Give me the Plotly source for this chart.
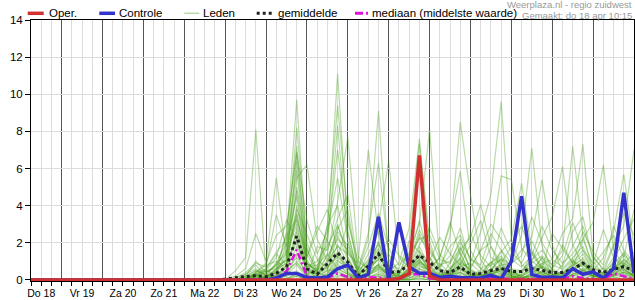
import pandas as pd
import plotly.graph_objects as go

# ---------------- data ----------------
times = pd.date_range("2024-04-18 06:00", periods=60, freq="6h")
day_label_times = pd.date_range("2024-04-18 12:00", periods=15, freq="D")
day_labels = ["Do 18", "Vr 19", "Za 20", "Zo 21", "Ma 22", "Di 23", "Wo 24", "Do 25",
              "Vr 26", "Za 27", "Zo 28", "Ma 29", "Di 30", "Wo 1", "Do 2"]
midnights = pd.date_range("2024-04-19 00:00", periods=14, freq="D")

Z19 = [0]*19  # first 19 six-hour steps (Do 18 06:00 - Di 23 00:00) read as zero

oper = Z19 + [0, 0, 0, 0, 0, 0, 0, 0, 0, 0, 0, 0, 0, 0, 0, 0, 0, 0.07, 0.35, 6.7, 0.2,
              0, 0, 0, 0, 0, 0, 0, 0, 0, 0, 0, 0, 0, 0, 0, 0, 0, 0, 0, 0]
controle = Z19 + [0, 0, 0, 0, 0, 0.1, 0.35, 0.35, 0.13, 0.1, 0.15, 0.6, 0.8, 0.1, 0.3, 3.4, 0, 3.1, 0.7, 0.36, 0.36,
                  0.13, 0.2, 0.13, 0.1, 0.1, 0.25, 0.05, 1.0, 4.5, 0.3, 0.13, 0.15, 0.1, 0.6, 0.3, 0.43, 0.1, 0.6, 4.7, 0.35]
gemiddelde = Z19 + [0.05, 0.13, 0.18, 0.22, 0.17, 0.35, 0.7, 2.35, 0.6, 0.3, 0.85, 1.45, 0.95, 0.22, 0.75, 1.4, 0.4, 0.45, 0.8, 1.32, 0.95,
                    0.5, 0.4, 0.7, 0.3, 0.35, 0.5, 0.62, 0.45, 0.45, 0.62, 0.5, 0.4, 0.4, 0.57, 0.9, 0.55, 0.4, 0.57, 0.72, 0.48]
mediaan = Z19 + [0, 0, 0, 0, 0, 0.1, 0.45, 1.62, 0.2, 0.05, 0.1, 0.35, 0.15, 0.02, 0.15, 0.12, 0.05, 0.05, 0.3, 0.3, 0.08,
                 0.03, 0.05, 0.05, 0.02, 0.05, 0.15, 0.08, 0.03, 0.05, 0.05, 0.05, 0.03, 0.05, 0.2, 0.1, 0.05, 0.03, 0.35, 0.2, 0.05]

leden = [
    [0, 0, 0, 0, 0, 0, 0.05, 0.03, 0, 0, 0, 0, 0, 0, 0, 0, 0, 0, 0] +
    [0, 0.5, 1.2, 8.1, 0.3, 0.1, 0.4, 2.8, 0.6, 0.1, 0.3, 1.5, 0.4, 0, 0.2, 0.6, 0.1, 0, 0.3, 0.9, 0.2, 0, 0.1, 0.4, 0.1, 0, 0.2, 0.8, 0.3, 0, 0.1, 0.5, 0.2, 0, 0.3, 0.6, 0.1, 0, 0.2, 0.4, 0.1],
    Z19 + [0, 0.2, 0.6, 2.5, 1.0, 5.5, 1.2, 3.6, 0.8, 0.2, 0.5, 2.4, 1.1, 0.1, 0.4, 1.5, 0.3, 0.1, 0.6, 1.8, 0.7, 0.2, 0.3, 1.2, 0.2, 0.1, 0.6, 0.3, 0.1, 0.2, 0.8, 0.3, 0.1, 0.5, 1.1, 0.4, 0.2, 0.1, 0.6, 1.3, 0.3],
    Z19 + [0, 0, 0.1, 0.4, 0.6, 1.5, 2.2, 9.7, 1.4, 0.3, 0.8, 3.0, 1.2, 0.2, 0.6, 1.1, 0.2, 0, 0.4, 1.4, 0.6, 0.1, 0.9, 2.2, 0.4, 0.2, 0.4, 1.6, 0.5, 0.1, 0.3, 0.9, 0.4, 0.2, 0.6, 1.0, 0.3, 0.1, 0.8, 0.5, 0.2],
    Z19 + [0, 0, 0.2, 1.0, 0.4, 0.8, 1.6, 8.2, 2.0, 0.6, 2.4, 11.1, 2.6, 0.3, 0.9, 2.0, 0.5, 0.1, 0.7, 2.5, 1.2, 0.3, 0.2, 0.6, 0.3, 0.5, 1.8, 0.9, 0.2, 0, 0.4, 1.2, 0.3, 0.1, 0.9, 1.6, 0.4, 0.2, 0.3, 0.7, 0.4],
    Z19 + [0, 0.1, 0.3, 0.6, 0.2, 0.4, 2.6, 7.2, 1.1, 0.2, 1.4, 4.2, 7.7, 1.3, 0.5, 0.8, 0.2, 0, 0.2, 1.0, 0.4, 0.1, 0.5, 1.8, 0.6, 0.2, 0.3, 0.5, 0.1, 0.3, 1.5, 0.6, 0.2, 0.4, 0.2, 0.5, 0.8, 0.3, 0.2, 0.9, 0.3],
    Z19 + [0, 0, 0, 0.3, 0.1, 0.6, 1.1, 6.4, 0.9, 0.4, 3.0, 9.4, 3.4, 0.5, 2.2, 9.1, 1.0, 0.2, 0.5, 1.6, 0.3, 0.1, 0.2, 0.9, 0.2, 0.1, 0.5, 1.2, 0.4, 0.2, 0.6, 0.3, 0.1, 0.2, 0.5, 0.9, 0.2, 0.1, 0.4, 1.1, 0.6],
    Z19 + [0, 0, 0.2, 0.5, 0.3, 0.9, 2.0, 5.9, 0.7, 1.0, 1.9, 8.3, 2.0, 0.2, 0.3, 0.7, 0.4, 0.3, 1.5, 3.0, 8.1, 0.9, 0.3, 0.6, 0.1, 0.3, 1.0, 0.4, 0.2, 0.1, 0.2, 0.7, 0.3, 0.1, 0.4, 0.6, 0.2, 0.1, 0.9, 0.3, 0.2],
    Z19 + [0, 0, 0, 0.2, 0.5, 0.3, 1.3, 5.5, 6.2, 2.2, 1.0, 1.8, 1.4, 0.9, 7.0, 2.4, 0.6, 0.2, 0.3, 0.8, 0.5, 0.2, 0.6, 1.1, 0.5, 0.2, 0.1, 0.3, 0.6, 0.2, 0.1, 0.4, 0.2, 0.3, 1.0, 0.7, 0.2, 0.4, 1.2, 0.6, 0.2],
    Z19 + [0, 0, 0, 0, 0.2, 0.2, 0.7, 5.0, 1.6, 0.5, 0.9, 2.6, 1.8, 0.4, 0.6, 3.0, 6.4, 1.2, 0.7, 1.3, 0.9, 0.5, 2.4, 8.5, 4.6, 1.1, 0.3, 0.6, 0.2, 0.1, 0.2, 0.5, 0.1, 0, 0.3, 0.5, 0.2, 0.1, 0.3, 0.6, 0.2],
    Z19 + [0, 0, 0.1, 0.3, 0.1, 0.5, 1.9, 4.5, 0.6, 0.3, 0.7, 1.2, 0.8, 0.1, 0.4, 1.2, 0.5, 0.9, 2.8, 7.6, 2.1, 0.4, 0.2, 0.7, 0.9, 2.6, 4.6, 9.6, 2.1, 0.8, 0.5, 1.2, 0.6, 0.3, 0.8, 1.4, 0.5, 0.2, 0.6, 1.0, 0.4],
    Z19 + [0, 0, 0.3, 0.8, 0.2, 0.6, 0.9, 4.0, 1.2, 2.6, 3.8, 1.6, 0.6, 0.2, 0.8, 1.4, 0.3, 0.2, 1.9, 7.3, 1.8, 0.6, 0.4, 1.5, 0.3, 0.2, 0.6, 1.1, 0.9, 2.4, 7.1, 1.8, 0.5, 0.3, 0.7, 1.2, 0.4, 0.3, 0.5, 1.5, 0.5],
    Z19 + [0, 0, 0, 0.1, 0.3, 0.2, 0.8, 3.5, 0.9, 0.5, 1.3, 2.2, 1.6, 0.6, 2.5, 6.3, 1.4, 0.3, 0.6, 1.1, 0.4, 0.2, 0.3, 0.9, 0.6, 1.6, 2.0, 5.6, 5.4, 1.7, 1.0, 0.6, 0.3, 0.2, 0.6, 1.0, 0.4, 0.1, 0.5, 0.8, 0.2],
    Z19 + [0, 0, 0, 0.2, 0.1, 0.4, 1.5, 3.0, 0.5, 0.1, 0.4, 1.1, 0.5, 0, 0.2, 0.9, 0.3, 0.1, 0.2, 0.7, 0.6, 1.2, 2.9, 5.85, 1.6, 0.6, 0.3, 0.9, 0.4, 0.2, 0.5, 0.9, 1.1, 2.5, 3.3, 7.3, 1.3, 0.5, 0.4, 0.9, 0.6],
    Z19 + [0, 0, 0.1, 0.4, 0.8, 1.0, 0.6, 2.6, 0.4, 0.3, 0.6, 1.9, 0.9, 0.2, 0.3, 0.5, 0.1, 0, 0.4, 1.2, 0.8, 0.3, 0.5, 1.6, 2.3, 4.07, 1.8, 0.6, 0.3, 0.4, 0.9, 1.3, 0.8, 1.6, 7.2, 2.4, 0.5, 0.6, 0.3, 0.5, 0.3],
    Z19 + [0, 0, 0, 0.3, 0.5, 1.2, 3.25, 2.1, 0.7, 0.8, 1.4, 0.6, 0.3, 0.1, 0.5, 0.8, 0.2, 0.1, 0.6, 1.3, 0.5, 0.3, 0.4, 0.8, 0.2, 0.4, 0.9, 1.5, 2.2, 5.2, 1.6, 0.7, 0.3, 0.4, 0.8, 1.1, 0.3, 0.4, 1.8, 2.9, 7.0],
    Z19 + [0, 0, 0, 0.1, 0.2, 0.5, 0.9, 2.2, 0.3, 0.1, 0.3, 1.0, 0.7, 0.2, 0.9, 1.6, 0.4, 0.2, 0.3, 0.6, 0.3, 0.1, 0.2, 0.5, 0.4, 0.2, 0.6, 0.8, 0.9, 1.6, 2.3, 5.4, 1.9, 0.4, 0.6, 2.2, 3.1, 6.2, 1.6, 0.8, 0.4],
    Z19 + [0, 0, 0, 0.2, 0.1, 0.3, 0.5, 1.8, 0.6, 0.4, 0.2, 0.8, 0.4, 0.1, 0.3, 0.6, 0.3, 0.2, 0.5, 0.9, 0.7, 0.2, 0.4, 1.0, 0.5, 0.3, 0.2, 0.6, 0.4, 0.5, 1.0, 2.3, 3.4, 6.1, 1.9, 0.8, 0.5, 1.2, 2.6, 5.7, 1.8],
    Z19 + [0, 0.1, 0.4, 0.9, 0.7, 3.5, 1.8, 3.2, 0.9, 0.4, 2.2, 7.0, 2.5, 0.3, 0.6, 1.3, 0.5, 0.1, 0.4, 1.0, 0.6, 1.2, 3.1, 1.4, 0.3, 0.2, 0.4, 0.6, 0.2, 0.1, 0.4, 0.7, 0.5, 0.2, 0.6, 0.9, 0.3, 0.2, 0.6, 1.1, 0.7],
    Z19 + [0, 0, 0, 0, 0, 0.1, 0.2, 1.4, 0.3, 0.6, 2.9, 4.0, 1.2, 0.1, 0.3, 0.8, 0.2, 0, 0.3, 0.6, 0.4, 0.7, 1.3, 2.8, 0.9, 0.4, 0.3, 0.2, 0.1, 0.3, 0.6, 0.4, 0.2, 0.8, 2.6, 3.4, 1.0, 0.3, 0.2, 0.4, 0.3],
    Z19 + [0, 0, 0, 0.1, 0, 0.2, 0.4, 1.0, 0.2, 1.8, 1.6, 3.3, 4.6, 0.7, 0.4, 2.1, 0.5, 0.3, 1.1, 3.2, 1.2, 0.5, 0.3, 0.4, 0.2, 0.3, 0.8, 1.1, 0.3, 0.2, 0.5, 0.2, 0.6, 1.9, 0.9, 0.5, 0.2, 0.3, 1.0, 2.2, 3.3],
    Z19 + [0, 0, 0, 0, 0.1, 0, 0.3, 0.8, 0.1, 0, 0.2, 0.9, 0.3, 0, 0.1, 0.4, 0.1, 0, 0.1, 0.4, 0.2, 0, 0.1, 0.3, 0.1, 0, 0.2, 0.4, 0.1, 0, 0.1, 0.3, 0.1, 0, 0.2, 0.4, 0.1, 0, 0.2, 0.3, 0.1],
    Z19 + [0, 0, 0, 0, 0, 0.1, 0.2, 0.5, 0.1, 0, 0.1, 0.4, 0.2, 0, 0, 0.2, 0, 0, 0.1, 0.2, 0.1, 0, 0, 0.2, 0, 0, 0.1, 0.2, 0, 0, 0, 0.2, 0, 0, 0.1, 0.2, 0, 0, 0.1, 0.2, 0],
    Z19 + [0, 0, 0.1, 0.3, 0, 0, 0.1, 0.3, 0, 0, 0, 0.2, 0.1, 0, 0, 0.1, 0, 0, 0, 0.1, 0, 0, 0, 0.1, 0, 0, 0, 0.1, 0, 0, 0, 0.1, 0, 0, 0, 0.1, 0, 0, 0, 0.1, 0],
    Z19 + [0, 0, 0, 0, 0, 0, 0.1, 0.2, 0, 0, 0, 0.1, 0, 0, 0, 0, 0, 0, 0, 0.1, 0, 0, 0, 0, 0, 0, 0, 0, 0, 0, 0, 0, 0, 0, 0, 0, 0, 0, 0, 0, 0],
    Z19 + [0, 0, 0, 0.1, 0.2, 0.4, 0.6, 1.2, 0.3, 0.2, 0.5, 0.6, 0.3, 0.1, 0.2, 0.3, 0.1, 0, 0.2, 0.5, 0.3, 0.1, 0.2, 0.4, 0.1, 0.1, 0.3, 0.5, 0.2, 0.1, 0.2, 0.4, 0.2, 0.1, 0.3, 0.5, 0.2, 0.1, 0.3, 0.4, 0.2],
    Z19 + [0, 0, 0, 0.2, 0.4, 0.8, 1.0, 2.0, 0.5, 0.3, 1.1, 2.7, 3.8, 0.5, 1.0, 1.7, 0.6, 0.4, 1.0, 2.3, 1.6, 0.8, 1.0, 2.0, 1.2, 0.6, 0.9, 1.3, 0.6, 0.5, 1.1, 1.6, 0.8, 0.6, 1.2, 1.8, 0.6, 0.4, 0.9, 1.4, 0.8],
    Z19 + [0, 0, 0, 0, 0, 0, 0, 0.4, 0.1, 0, 0, 0.3, 0.1, 0, 0, 0.2, 0, 0, 0, 0.2, 0.1, 0, 0, 0.1, 0, 0, 0, 0.1, 0, 0, 0, 0.1, 0, 0, 0, 0.1, 0, 0, 0, 0.1, 0],
    Z19 + [0, 0, 0, 0.4, 0.9, 2.4, 2.9, 6.8, 1.7, 0.4, 0.7, 1.3, 0.6, 0.2, 0.4, 0.7, 0.2, 0, 0.4, 1.1, 0.4, 0.2, 0.3, 0.7, 0.2, 0.1, 0.4, 0.7, 0.3, 0.1, 0.3, 0.8, 0.3, 0.2, 0.5, 0.8, 0.3, 0.1, 0.4, 0.6, 0.2],
    Z19 + [0, 0, 0, 0, 0.1, 0.2, 0.5, 0.9, 0.2, 0, 0.1, 0.5, 0.2, 0, 0.1, 0.3, 0.1, 0, 0.1, 0.3, 0.1, 0, 0.1, 0.2, 0.1, 0, 0.1, 0.3, 0.1, 0, 0.1, 0.2, 0.1, 0, 0.2, 0.3, 0.1, 0, 0.1, 0.2, 0.1],
    Z19 + [0, 0, 0, 0, 0, 0, 0, 0.2, 0, 0, 0, 0.1, 0, 0, 0, 0.1, 0, 0, 0, 0, 0, 0, 0, 0, 0, 0, 0, 0, 0, 0, 0, 0, 0, 0, 0, 0.1, 0, 0, 0, 0, 0],
    Z19 + [0, 0, 0, 0.3, 0.6, 1.4, 0.8, 3.8, 2.4, 1.1, 0.6, 1.5, 0.9, 0.3, 1.4, 2.6, 1.1, 0.5, 0.8, 1.9, 2.8, 1.4, 0.6, 1.2, 2.5, 1.3, 0.7, 2.8, 1.5, 0.9, 2.1, 1.0, 0.6, 1.3, 3.1, 1.6, 0.9, 2.7, 1.2, 0.8, 1.5],
    Z19 + [0, 0, 0.2, 0.5, 0.2, 0.9, 1.4, 4.8, 0.9, 0.5, 1.8, 2.9, 1.5, 0.4, 1.1, 1.9, 0.8, 0.6, 2.1, 1.5, 1.0, 2.3, 1.4, 0.8, 1.9, 3.2, 1.2, 0.9, 1.8, 2.9, 1.4, 0.6, 2.5, 1.7, 0.9, 2.6, 1.5, 0.8, 2.9, 1.6, 0.9],
    Z19 + [0, 0, 0, 0.2, 0.4, 0.7, 2.4, 3.3, 1.3, 2.9, 2.1, 1.2, 3.1, 1.0, 0.6, 1.1, 2.2, 1.3, 0.9, 2.7, 1.5, 0.7, 1.8, 2.4, 1.1, 0.8, 2.5, 1.6, 0.9, 1.3, 3.4, 2.0, 1.1, 0.7, 1.8, 2.9, 1.2, 0.6, 1.9, 3.6, 2.4],
    Z19 + [0, 0, 0.1, 0.3, 0.5, 0.6, 1.1, 6.9, 3.2, 1.4, 2.6, 5.5, 2.1, 0.5, 1.8, 3.6, 1.7, 0.8, 1.4, 2.2, 2.4, 1.1, 0.9, 1.7, 0.7, 1.6, 3.0, 2.2, 1.1, 0.7, 1.3, 2.9, 1.6, 0.9, 1.4, 2.2, 0.8, 1.5, 2.4, 1.2, 3.8],
]

# ---------------- figure ----------------
FONT = "Arial, Liberation Sans, sans-serif"
fig = go.Figure()

for m in leden:
    fig.add_trace(go.Scatter(x=times, y=m, mode="lines", showlegend=False, hoverinfo="skip",
                             line=dict(color="rgba(70,160,25,0.38)", width=1.2)))
fig.add_trace(go.Scatter(x=times, y=gemiddelde, mode="lines", showlegend=False,
                         line=dict(color="#222222", width=3, dash="dot")))
fig.add_trace(go.Scatter(x=times, y=mediaan, mode="lines", showlegend=False,
                         line=dict(color="#e010e0", width=2.5, dash="7px,3px,2px,3px")))
fig.add_trace(go.Scatter(x=times, y=controle, mode="lines", showlegend=False,
                         line=dict(color="#3333cc", width=3.5)))
fig.add_trace(go.Scatter(x=times, y=oper, mode="lines", showlegend=False,
                         line=dict(color="#d03030", width=3.5)))
# carrier trace for the label axis
fig.add_trace(go.Scatter(x=[times[0], times[-1]], y=[None, None], xaxis="x2", mode="lines",
                         showlegend=False, hoverinfo="skip"))

x_range = [times[0], times[-1]]

fig.update_layout(
    width=635, height=300,
    margin=dict(l=31, r=1, t=20, b=19),
    paper_bgcolor="white", plot_bgcolor="white",
    font=dict(family=FONT, size=11, color="black"),
    xaxis=dict(type="date", range=x_range, tickmode="array", tickvals=midnights,
               ticktext=[""] * len(midnights), showgrid=True, gridcolor="#555555", gridwidth=1,
               ticks="outside", ticklen=4, tickcolor="black", tickwidth=1,
               showline=True, linecolor="black", linewidth=1, mirror=True, zeroline=False,
               minor=dict(dtick=21600000, tick0="2024-04-18 00:00", ticks="outside", ticklen=4,
                          tickcolor="black", showgrid=True, gridcolor="#dcdcdc", gridwidth=1)),
    xaxis2=dict(type="date", range=x_range, overlaying="x", anchor="y", side="bottom",
                tickmode="array", tickvals=day_label_times, ticktext=day_labels,
                showgrid=False, ticks="", showline=False, zeroline=False,
                tickfont=dict(size=10.5, color="black"), ticklabelstandoff=4),
    yaxis=dict(range=[-0.06, 14], tick0=0, dtick=2, showgrid=True, gridcolor="#dcdcdc",
               ticks="outside", ticklen=5, tickcolor="black", showline=True, linecolor="black",
               linewidth=1, mirror=True, zeroline=False, tickfont=dict(size=11.5)),
)

# manual legend (pixel helper -> paper coords)
def px(xp):
    return (xp - 31) / 603.0

def py(yp):
    return (281 - yp) / 261.0

LY = 13.3
legend_items = [
    (27.7, 43.7, 47.7, "Oper.", dict(color="#d03030", width=3.5)),
    (99.3, 115.0, 118.3, "Controle", dict(color="#3333cc", width=3.5)),
    (184.3, 199.3, 202.3, "Leden", dict(color="#b8d9a6", width=1.5)),
    (256.7, 272.7, 276.7, "gemiddelde", dict(color="#222222", width=3, dash="dot")),
    (355.0, 368.0, 370.5, "mediaan (middelste waarde)", dict(color="#e010e0", width=3, dash="8px,3px,2px,3px")),
]
for x0, x1, xt, label, ln in legend_items:
    fig.add_shape(type="line", xref="paper", yref="paper", x0=px(x0), x1=px(x1),
                  y0=py(LY), y1=py(LY), line=ln)
    fig.add_annotation(xref="paper", yref="paper", x=px(xt - 1), y=py(LY), text=label,
                       showarrow=False, xanchor="left", yanchor="middle",
                       font=dict(family=FONT, size=11.5, color="black"))

fig.add_annotation(xref="paper", yref="paper", x=px(634), y=py(5), text="Weerplaza.nl - regio zuidwest",
                   showarrow=False, xanchor="right", yanchor="middle",
                   font=dict(family=FONT, size=9.5, color="#999999"))
fig.add_annotation(xref="paper", yref="paper", x=px(634), y=py(15.5), text="Gemaakt: do 18 apr 10:15",
                   showarrow=False, xanchor="right", yanchor="middle",
                   font=dict(family=FONT, size=9.5, color="#999999"))

fig.write_html("out.html")
